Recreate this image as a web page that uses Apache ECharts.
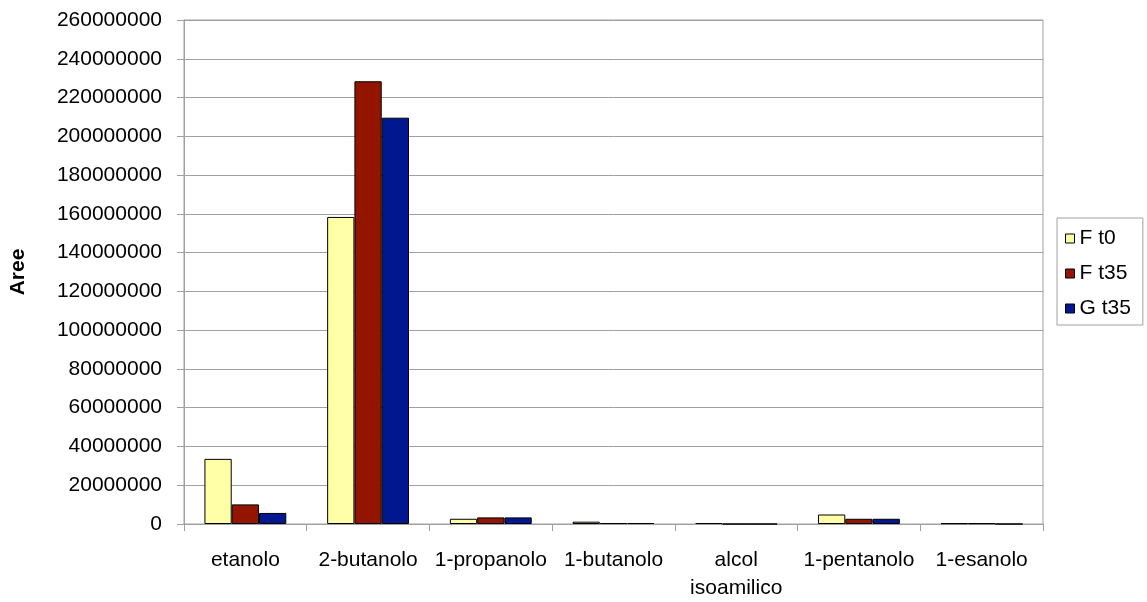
<!DOCTYPE html>
<html>
<head>
<meta charset="utf-8">
<script src="https://cdn.jsdelivr.net/npm/echarts@6/dist/echarts.min.js"></script>
<style>
  html, body { margin: 0; padding: 0; background: #ffffff; }
  #chart { width: 1147px; height: 602px; }
</style>
</head>
<body>
<div id="chart"></div>
<script>
// Alcohol peak areas per sample
const categories = ['etanolo', '2-butanolo', '1-propanolo', '1-butanolo', 'alcol\nisoamilico', '1-pentanolo', '1-esanolo'];
const seriesNames = ['F t0', 'F t35', 'G t35'];
const fT0  = [33600000, 158400000, 2700000, 1200000, 500000, 4900000, 400000];
const fT35 = [10100000, 228400000, 3400000, 500000, 0, 2700000, 400000];
const gT35 = [5700000, 209600000, 3400000, 500000, 0, 2700000, 0];
const colors = ['#ffffa8', '#931500', '#00188f'];
const yAxisTitle = 'Aree';

const FONT = 'Liberation Sans, Arial, sans-serif';
const FS = 21;
const values = [fT0, fT35, gT35];

const chart = echarts.init(document.getElementById('chart'), null, { renderer: 'canvas' });

chart.setOption({
  animation: false,
  backgroundColor: '#ffffff',
  textStyle: { fontFamily: FONT, color: '#000' },
  grid: {
    left: 175, right: 104, top: 20, bottom: 77,
    show: true, borderColor: '#a0a0a0', borderWidth: 1,
    containLabel: false
  },
  legend: {
    orient: 'vertical',
    left: 1057, top: 218,
    padding: [10, 12, 6, 8],
    borderColor: '#a0a0a0', borderWidth: 1,
    backgroundColor: '#ffffff',
    itemWidth: 9, itemHeight: 9, itemGap: 14,
    icon: 'rect',
    textStyle: { fontFamily: FONT, fontSize: FS, color: '#000' },
    data: seriesNames.map((n, i) => ({
      name: n,
      itemStyle: { color: colors[i], borderColor: '#000', borderWidth: 1 }
    }))
  },
  xAxis: {
    type: 'category',
    data: categories,
    axisLine: { show: true, lineStyle: { color: '#a0a0a0', width: 1 } },
    axisTick: { show: true, alignWithLabel: false, length: 7, lineStyle: { color: '#a0a0a0' } },
    axisLabel: {
      interval: 0, margin: 22, fontFamily: FONT, fontSize: FS, color: '#000',
      lineHeight: 28
    },
    splitLine: { show: false }
  },
  yAxis: {
    type: 'value',
    min: 0, max: 260000000, interval: 20000000,
    name: yAxisTitle,
    nameLocation: 'middle',
    nameRotate: 90,
    nameGap: 155,
    nameTextStyle: { fontFamily: FONT, fontSize: FS, fontWeight: 'bold', color: '#000' },
    axisLine: { show: true, lineStyle: { color: '#a0a0a0', width: 1 } },
    axisTick: { show: true, length: 7, lineStyle: { color: '#a0a0a0' } },
    axisLabel: {
      margin: 22, fontFamily: FONT, fontSize: FS, color: '#000',
      formatter: v => String(v)
    },
    splitLine: { show: true, lineStyle: { color: '#a0a0a0', width: 1 } }
  },
  series: seriesNames.map((n, i) => ({
    name: n,
    type: 'bar',
    data: values[i],
    barGap: '0%',
    barCategoryGap: '33.3%',
    itemStyle: { color: colors[i], borderColor: '#000', borderWidth: 1 }
  }))
});
</script>
</body>
</html>
